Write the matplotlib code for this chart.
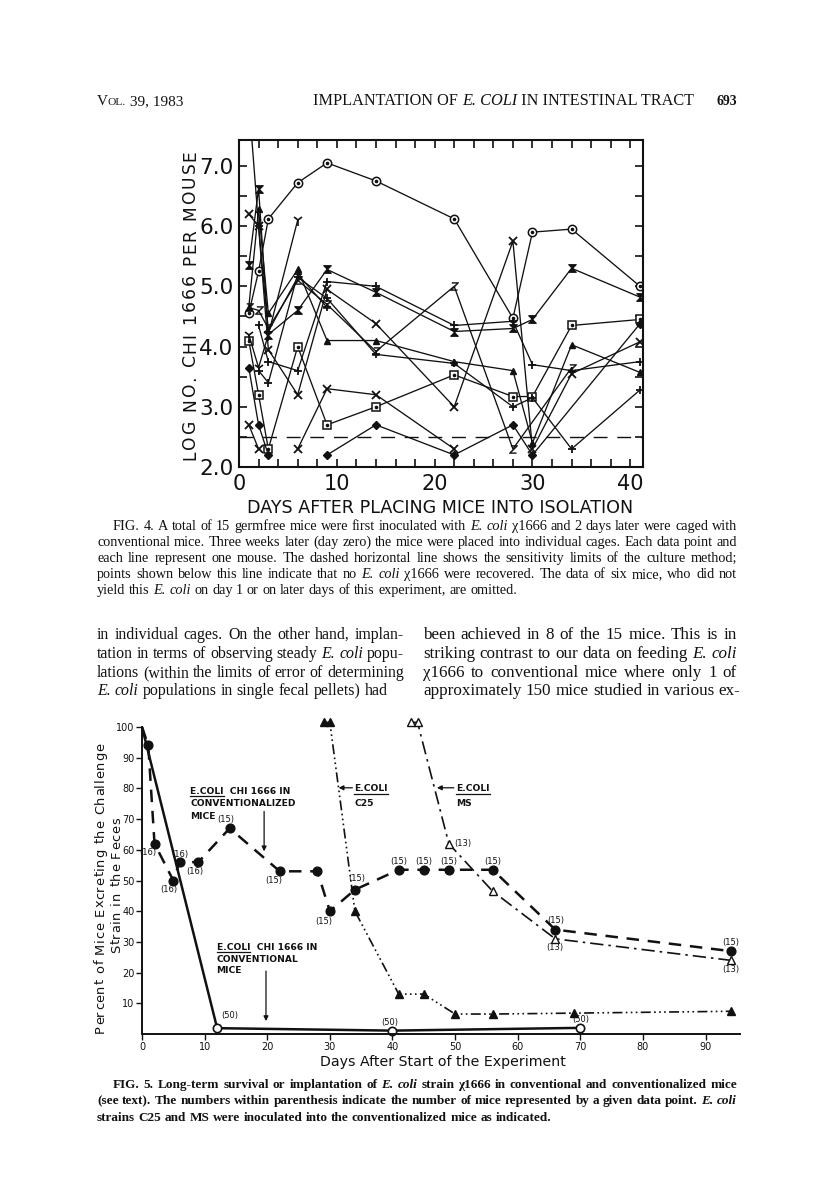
import numpy as np
import matplotlib
matplotlib.use("Agg")
import matplotlib.pyplot as plt
from matplotlib.path import Path
from matplotlib.lines import Line2D
from matplotlib.transforms import IdentityTransform
from matplotlib import font_manager

# ---------------- data: Fig. 4 (log no. per mouse) ----------------
days4 = [1, 2, 3, 6, 9, 14, 22, 28, 30, 34, 41]
NA = None        # not plotted, line continues to next point
GAP = np.nan     # not plotted, line broken

mouse_circle    = [4.55, 5.25, 6.12, 6.72, 7.05, 6.75, 6.12, 4.47, 5.90, 5.95, 5.00]
mouse_hourglass = [5.35, 6.62, 4.20, 4.60, 5.28, 4.90, 4.25, 4.30, 4.45, 5.30, 4.82]
mouse_x_high    = [6.20, 6.00, 3.95, 3.20, 4.95, 4.38, 3.00, 5.75, 2.30, 3.55, 4.08]
mouse_plus_a    = [NA,   4.35, 3.75, 3.60, 5.08, 5.00, 4.35, 4.42, 3.70, 3.60, 3.75]
mouse_z         = [4.65, 4.60, 4.30, 5.10, 4.70, 3.92, 5.00, 2.30, NA,   3.65, NA]
mouse_triangle  = [4.65, 6.28, 4.55, 5.28, 4.10, 4.10, 3.75, 3.60, 2.40, 4.03, 3.57]
mouse_square    = [4.10, 3.20, 2.30, 4.00, 2.70, 3.00, 3.53, 3.17, 3.17, 4.35, 4.45]
mouse_diamond   = [3.65, 2.70, 2.20, GAP,  2.20, 2.70, 2.20, 2.70, 2.20, NA,   4.38]
mouse_x_low     = [2.70, 2.30, GAP,  2.30, 3.30, 3.20, 2.30, NA,   NA,   NA,   NA]
mouse_y         = [4.20, 3.65, 4.20, 6.10, NA,   NA,   NA,   NA,   NA,   NA,   NA]
mouse_plus_b    = [8.10, 6.00, 4.25, 5.15, 4.80, 3.87, 3.72, 3.00, 3.15, 2.30, 3.28]
mouse_plus_c    = [NA,   3.60, 3.40, 5.20, 4.65, NA,   NA,   NA,   NA,   NA,   NA]
detection_limit = 2.5

y4_ticks = [2.0, 3.0, 4.0, 5.0, 6.0, 7.0]
x4_ticks = [0, 10, 20, 30, 40]

# ---------------- data: Fig. 5 (percent of mice) ----------------
conv_days = [0, 12, 40, 70]
conv_pct = [100, 1.9, 1.1, 2.0]
conv_n = [None, "(50)", "(50)", "(50)"]

cz_days = [0, 1, 2, 5, 6, 9, 14, 22, 28, 30, 34, 41, 45, 49, 56, 66, 94]
cz_pct = [100, 94, 62, 50, 56, 56, 67, 53, 53, 40, 47, 53.5, 53.5, 53.5, 53.5, 34, 27]
cz_n = [None, None, "(16)", "(16)", "(16)", "(16)", "(15)", "(15)", None, "(15)",
        "(15)", "(15)", "(15)", "(15)", "(15)", "(15)", "(15)"]

c25_days = [29, 30, 34, 41, 45, 50, 56, 69, 94]
c25_pct = [101.5, 101.5, 40, 13, 13, 6.5, 6.5, 6.8, 7.4]

ms_days = [43, 44, 49, 56, 66, 94]
ms_pct = [101.5, 101.5, 62, 46.5, 31, 24]
ms_n = [None, None, "(13)", None, "(13)", "(13)"]

x5_ticks = [0, 10, 20, 30, 40, 50, 60, 70, 80, 90]
y5_ticks = [10, 20, 30, 40, 50, 60, 70, 80, 90, 100]

# ---------------- page text ----------------
cap4_lines = [
    "FIG. 4. A total of 15 germfree mice were first inoculated with _E._ _coli_ \u03c71666 and 2 days later were caged with",
    "conventional mice. Three weeks later (day zero) the mice were placed into individual cages. Each data point and",
    "each line represent one mouse. The dashed horizontal line shows the sensitivity limits of the culture method;",
    "points shown below this line indicate that no _E._ _coli_ \u03c71666 were recovered. The data of six mice, who did not",
    "yield this _E._ _coli_ on day 1 or on later days of this experiment, are omitted.",
]
body_left = [
    "in individual cages. On the other hand, implan-",
    "tation in terms of observing steady _E._ _coli_ popu-",
    "lations (within the limits of error of determining",
    "_E._ _coli_ populations in single fecal pellets) had",
]
body_right = [
    "been achieved in 8 of the 15 mice. This is in",
    "striking contrast to our data on feeding _E._ _coli_",
    "\u03c71666 to conventional mice where only 1 of",
    "approximately 150 mice studied in various ex-",
]
cap5_lines = [
    "FIG. 5. Long-term survival or implantation of _E._ _coli_ strain \u03c71666 in conventional and conventionalized mice",
    "(see text). The numbers within parenthesis indicate the number of mice represented by a given data point. _E._ _coli_",
    "strains C25 and MS were inoculated into the conventionalized mice as indicated.",
]

# ====================================================================
W, H = 816, 1190
fig = plt.figure(figsize=(W / 100, H / 100), dpi=100)
fig.patch.set_facecolor("white")
renderer = fig.canvas.get_renderer()

avail = {f.name for f in font_manager.fontManager.ttflist}
SERIF = "Liberation Serif" if "Liberation Serif" in avail else "DejaVu Serif"
NARROW = next((n for n in ["DejaVu Sans Condensed", "Liberation Sans Narrow"] if n in avail), "DejaVu Sans")
SANS = "DejaVu Sans"
INK = "#111111"


def fx(x):
    return x / W


def fy(y):
    return 1 - y / H


def text_width(s, **kw):
    t = fig.text(0, 0, s, **kw)
    w = t.get_window_extent(renderer).width
    t.remove()
    return w


def fit_size(s, target, base=10.0, **kw):
    return base * target / text_width(s, fontsize=base, **kw)


def parse(line):
    out = []
    for w in line.split(" "):
        if len(w) > 2 and w.startswith("_") and w.endswith("_"):
            out.append((w[1:-1], "italic"))
        else:
            out.append((w, "normal"))
    return out


def natural_width(line, size, weight):
    words = parse(line)
    ws = sum(text_width(w, fontsize=size, family=SERIF, style=st, weight=weight) for w, st in words)
    sp = (text_width("a a", fontsize=size, family=SERIF, weight=weight)
          - text_width("aa", fontsize=size, family=SERIF, weight=weight))
    return ws + sp * (len(words) - 1)


def paragraph(lines, x0s, x1, baselines, weight="normal", base=10.0):
    # one font size per paragraph so that the tightest justified line sets naturally
    sizes = []
    for line, x0 in zip(lines[:-1] if len(lines) > 1 else lines, x0s):
        sizes.append(base * (x1 - x0) / natural_width(line, base, weight))
    size = min(sizes)
    sp = (text_width("a a", fontsize=size, family=SERIF, weight=weight)
          - text_width("aa", fontsize=size, family=SERIF, weight=weight))
    for k, (line, x0, yb) in enumerate(zip(lines, x0s, baselines)):
        words = parse(line)
        widths = [text_width(w, fontsize=size, family=SERIF, style=st, weight=weight) for w, st in words]
        last = (k == len(lines) - 1) and len(lines) > 1
        gap = sp if last else (x1 - x0 - sum(widths)) / max(len(words) - 1, 1)
        x = x0
        for (w, st), wd in zip(words, widths):
            fig.text(fx(x), fy(yb), w, fontsize=size, family=SERIF, style=st,
                     weight=weight, va="baseline", ha="left", color=INK)
            x += wd + gap


def draw_runs(x, yb, runs):
    for s, kw in runs:
        fig.text(fx(x), fy(yb), s, va="baseline", ha="left", color=INK, **kw)
        x += text_width(s, **kw)


def scale_runs(runs, target):
    tot = sum(text_width(s, **kw) for s, kw in runs)
    sc = target / tot
    return [(s, dict(kw, fontsize=kw["fontsize"] * sc)) for s, kw in runs]


def tracked_vertical(xb, yc, s, size, length, family=SANS):
    """Vertical (rotated 90) text with letter-spacing so it spans `length` px."""
    ws = [text_width(c, fontsize=size, family=family) if c != " " else
          text_width("a a", fontsize=size, family=family) - text_width("aa", fontsize=size, family=family)
          for c in s]
    extra = (length - sum(ws)) / max(len(s) - 1, 1)
    pos = yc + length / 2.0  # bottom end in pixel-from-top coordinates
    for c, w in zip(s, ws):
        if c != " ":
            fig.text(fx(xb), fy(pos - w / 2.0), c, fontsize=size, family=family, color=INK,
                     rotation=90, rotation_mode="anchor", ha="center", va="baseline")
        pos -= w + extra


# ---------------- header ----------------
vol = scale_runs([("V", dict(fontsize=10, family=SERIF)),
                  ("OL.", dict(fontsize=7.5, family=SERIF)),
                  (" 39, 1983", dict(fontsize=10, family=SERIF))], 86)
draw_runs(97, 105, vol)
hdr = scale_runs([("IMPLANTATION OF ", dict(fontsize=10, family=SERIF)),
                  ("E. COLI", dict(fontsize=10, family=SERIF, style="italic")),
                  (" IN INTESTINAL TRACT", dict(fontsize=10, family=SERIF))], 379)
draw_runs(313, 105, hdr)
fig.text(fx(737), fy(105), "693", fontsize=10, family=SERIF, weight="bold",
         ha="right", va="baseline", color=INK)

# ---------------- Fig. 4 ----------------
ax1 = fig.add_axes([fx(239), fy(467), (643 - 239) / W, (467 - 140) / H])
ax1.set_xlim(0, 41.3)
ax1.set_ylim(2.0, 7.43)

hourglass = Path([(-1, 1), (1, 1), (-1, -1), (1, -1), (-1, 1)],
                 [Path.MOVETO, Path.LINETO, Path.LINETO, Path.LINETO, Path.CLOSEPOLY])

series = [
    (mouse_circle, dict(marker="o", ms=6, mfc="white", mec=INK, mew=1.1), True),
    (mouse_hourglass, dict(marker=hourglass, ms=5.5, mfc=INK, mec=INK, mew=0.8), False),
    (mouse_x_high, dict(marker="x", ms=5.5, mec=INK, mew=1.3), False),
    (mouse_plus_a, dict(marker="+", ms=6, mec=INK, mew=1.3), False),
    (mouse_z, dict(marker="$Z$", ms=6, mec=INK, mfc=INK, mew=0.3), False),
    (mouse_triangle, dict(marker="^", ms=5, mfc=INK, mec=INK), False),
    (mouse_square, dict(marker="s", ms=6, mfc="white", mec=INK, mew=1.1), True),
    (mouse_diamond, dict(marker="D", ms=4, mfc=INK, mec=INK), False),
    (mouse_x_low, dict(marker="x", ms=5.5, mec=INK, mew=1.3), False),
    (mouse_y, dict(marker="1", ms=8, mec=INK, mew=1.2), False),
    (mouse_plus_b, dict(marker="+", ms=6, mec=INK, mew=1.3), False),
    (mouse_plus_c, dict(marker="+", ms=6, mec=INK, mew=1.3), False),
]
for vals, style, dotted in series:
    d = [x for x, v in zip(days4, vals) if v is not None]
    v = [y for y in vals if y is not None]
    ax1.plot(d, v, color=INK, lw=0.95, **style)
    if dotted:
        ax1.plot(d, v, ls="none", marker="o", ms=1.6, color=INK)

ax1.axhline(detection_limit, color=INK, lw=1.0, ls=(0, (10, 7)))

ax1.set_xticks(x4_ticks)
ax1.set_xticks(np.arange(0, 42, 2), minor=True)
ax1.set_yticks(y4_ticks)
ax1.set_yticks(np.arange(2.0, 7.45, 0.5), minor=True)
ax1.set_yticklabels([f"{t:.1f}" for t in y4_ticks])
ax1.tick_params(which="both", direction="in", top=True, right=True,
                length=6, width=1.2, color=INK)
ax1.tick_params(axis="y", labelsize=15.5, pad=4, labelcolor=INK)
ax1.tick_params(axis="x", labelsize=15, pad=5, labelcolor=INK)
for lab in ax1.get_xticklabels() + ax1.get_yticklabels():
    lab.set_family(SANS)
for sp in ax1.spines.values():
    sp.set_linewidth(1.5)
    sp.set_color(INK)

tracked_vertical(195, 305, "LOG NO. CHI 1666 PER MOUSE", 12.3, 310)
s = "DAYS AFTER PLACING MICE INTO ISOLATION"
fig.text(fx(440), fy(508), s, ha="center", va="center", color=INK,
         family=SANS, fontsize=fit_size(s, 385, family=SANS))

# caption 4
paragraph(cap4_lines, [113, 97, 97, 97, 97], 737, [530, 546, 562, 578, 594])

# body columns
paragraph(body_left, [97] * 4, 404, [639, 658, 677, 695])
paragraph(body_right, [423] * 4, 737, [639, 658, 677, 695])

# ---------------- Fig. 5 ----------------
ax2 = fig.add_axes([fx(142), fy(1034), (740 - 142) / W, (1034 - 717.8) / H])
ax2.set_xlim(0, 95.5)
ax2.set_ylim(0, 103)
ax2.patch.set_alpha(0)

ax2.plot(conv_days, conv_pct, color=INK, lw=1.8, solid_capstyle="butt", clip_on=False)
ax2.plot(conv_days[1:], conv_pct[1:], ls="none", marker="o", ms=6, mfc="white",
         mec=INK, mew=1.2, clip_on=False)

ax2.plot(cz_days, cz_pct, color=INK, lw=1.8, ls=(0, (5, 3.5)), clip_on=False)
ax2.plot(cz_days[1:], cz_pct[1:], ls="none", marker="o", ms=6.3, color=INK, clip_on=False)

ax2.plot(c25_days, c25_pct, color=INK, lw=1.2, ls=(0, (6, 2, 1, 2, 1, 2, 1, 2)), clip_on=False)
ax2.plot(c25_days, c25_pct, ls="none", marker="^", ms=6, color=INK, clip_on=False)

ax2.plot(ms_days, ms_pct, color=INK, lw=1.2, ls=(0, (8, 3, 1.5, 3)), clip_on=False)
ax2.plot(ms_days, ms_pct, ls="none", marker="^", ms=6, mfc="white", mec=INK,
         mew=1.0, clip_on=False)

# count labels (placement offsets in pixels)
lab_kw = dict(fontsize=6, family=NARROW, color=INK, textcoords="offset pixels",
              va="center", annotation_clip=False)
cz_off = {2: (-7, -9), 3: (-4, -9), 4: (0, 8), 5: (-4, -9), 6: (-4, 9), 7: (-6, -9),
          9: (-6, -10), 10: (2, 11), 11: (0, 8), 12: (0, 8), 13: (0, 8), 14: (0, 8),
          15: (0, 9), 16: (0, 9)}
for i, n in enumerate(cz_n):
    if n:
        ax2.annotate(n, (cz_days[i], cz_pct[i]), xytext=cz_off[i], ha="center", **lab_kw)
ms_off = {2: (5, 0, "left"), 4: (0, -9, "center"), 5: (0, -9, "center")}
for i, n in enumerate(ms_n):
    if n:
        dx, dy, ha = ms_off[i]
        ax2.annotate(n, (ms_days[i], ms_pct[i]), xytext=(dx, dy), ha=ha, **lab_kw)
conv_off = {1: (4, 13, "left"), 2: (-3, 8, "center"), 3: (0, 8, "center")}
for i, n in enumerate(conv_n):
    if n:
        dx, dy, ha = conv_off[i]
        ax2.annotate(n, (conv_days[i], conv_pct[i]), xytext=(dx, dy), ha=ha, **lab_kw)

# arrows
arw = dict(arrowstyle="-|>", lw=0.9, color=INK, mutation_scale=7, shrinkA=0, shrinkB=0)
ax2.annotate("", xy=(19.5, 59.5), xytext=(19.5, 72.5), arrowprops=arw)
ax2.annotate("", xy=(19.8, 4.2), xytext=(19.8, 20.5), arrowprops=arw)
ax2.annotate("", xy=(31.4, 80.2), xytext=(33.6, 80.2), arrowprops=arw)
ax2.annotate("", xy=(47.1, 80.2), xytext=(49.8, 80.2), arrowprops=arw)

ann_kw = dict(fontsize=6.6, family=NARROW, weight="bold", color=INK)


def block(x, baselines, lines):
    for i, (line, yb) in enumerate(zip(lines, baselines)):
        t = ax2.text(x, yb, line, va="baseline", ha="left", **ann_kw)
        if i == 0:
            bb = t.get_window_extent(renderer)
            w = text_width("E.COLI", **ann_kw)
            ypx = ax2.transData.transform((x, yb))[1] - 2.5
            fig.add_artist(Line2D([bb.x0, bb.x0 + w], [ypx, ypx], lw=0.9, color=INK,
                                  transform=IdentityTransform()))


block(7.7, [78.2, 74.2, 70.1], ["E.COLI  CHI 1666 IN", "CONVENTIONALIZED", "MICE"])
block(11.9, [27.4, 23.5, 19.8], ["E.COLI  CHI 1666 IN", "CONVENTIONAL", "MICE"])
block(33.9, [79.0, 74.4], ["E.COLI", "C25"])
block(50.2, [79.0, 74.4], ["E.COLI", "MS"])

ax2.spines["top"].set_visible(False)
ax2.spines["right"].set_visible(False)
ax2.spines["left"].set_bounds(0, 100)
for sp in ("left", "bottom"):
    ax2.spines[sp].set_linewidth(1.4)
    ax2.spines[sp].set_color(INK)
ax2.set_xticks(x5_ticks)
ax2.set_yticks(y5_ticks)
ax2.tick_params(direction="out", length=4, width=1.0, color=INK, labelsize=7,
                pad=1.5, labelcolor=INK)
for lab in ax2.get_xticklabels() + ax2.get_yticklabels():
    lab.set_family(NARROW)

s = "Days After Start of the Experiment"
fig.text(fx(443), fy(1062), s, ha="center", va="center", color=INK, family=SANS,
         fontsize=fit_size(s, 246, family=SANS))
tracked_vertical(104, 888, "Percent of Mice Excreting the Challenge", 9.4, 290)
tracked_vertical(120, 885, "Strain in the Feces", 9.4, 136)

# caption 5 (bold)
paragraph(cap5_lines, [113, 97, 97], 737, [1088, 1104, 1121], weight="bold")

fig.savefig("out.png", dpi=100, facecolor="white")
